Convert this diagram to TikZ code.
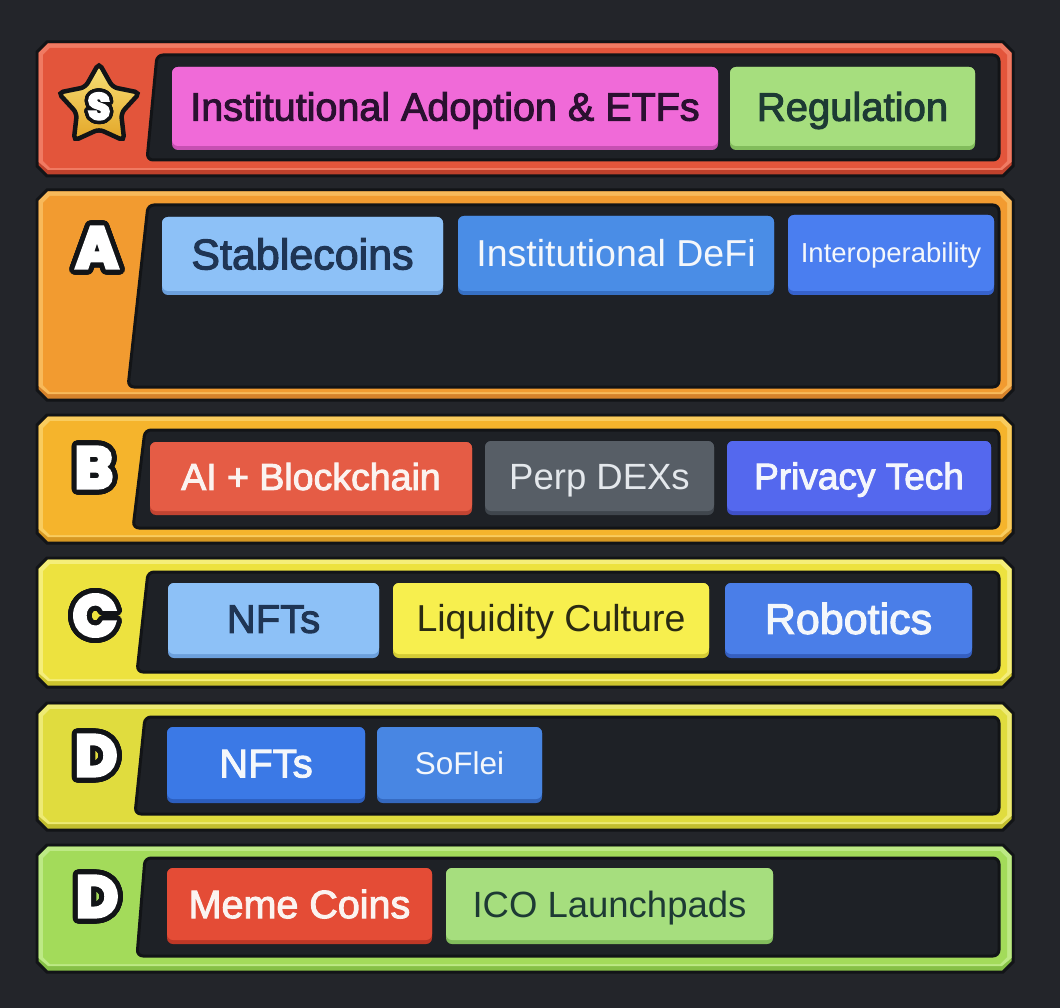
\documentclass[tikz,border=0pt]{standalone}
\usepackage{fontspec}
\setmainfont{Liberation Sans}
\newfontfamily\medf[FakeBold=2.5]{Liberation Sans}
\newfontfamily\tierf[FakeBold=6]{Poppins}
\usepackage[copies]{contour}
\contournumber{32}
\usetikzlibrary{shapes.geometric}

\definecolor{bg}{HTML}{23252A}
\definecolor{panel}{HTML}{1E2126}
\definecolor{frameout}{HTML}{121417}
% tier frames
\definecolor{sM}{HTML}{E3553B}\definecolor{sL}{HTML}{F07A62}\definecolor{sD}{HTML}{BE412C}
\definecolor{aM}{HTML}{F29B30}\definecolor{aL}{HTML}{F8B95A}\definecolor{aD}{HTML}{D6822A}
\definecolor{bM}{HTML}{F5B42C}\definecolor{bL}{HTML}{F9CC5E}\definecolor{bD}{HTML}{D79822}
\definecolor{cM}{HTML}{EDE23F}\definecolor{cL}{HTML}{F5EE7A}\definecolor{cD}{HTML}{CDC42E}
\definecolor{dM}{HTML}{E0DC3E}\definecolor{dL}{HTML}{EDEA74}\definecolor{dD}{HTML}{C2BE2E}
\definecolor{eM}{HTML}{A3DB5A}\definecolor{eL}{HTML}{BDE985}\definecolor{eD}{HTML}{86C046}
% chips
\definecolor{pk}{HTML}{F06AD8}\definecolor{pkD}{HTML}{C650B2}\definecolor{pkT}{HTML}{2A1030}
\definecolor{gr}{HTML}{A6DE7E}\definecolor{grD}{HTML}{82BC5C}\definecolor{grT}{HTML}{1D3A34}
\definecolor{lb}{HTML}{8DC1F7}\definecolor{lbD}{HTML}{6CA0DC}\definecolor{lbT}{HTML}{1F3554}
\definecolor{cbA}{HTML}{4A8DE6}\definecolor{cbAD}{HTML}{3670C4}\definecolor{cbAT}{HTML}{F4F7FB}
\definecolor{cbB}{HTML}{4A7EF0}\definecolor{cbBD}{HTML}{3662CC}\definecolor{cbBT}{HTML}{F4F7FB}
\definecolor{rd}{HTML}{E55C45}\definecolor{rdD}{HTML}{C24432}\definecolor{rdT}{HTML}{FBF3F0}
\definecolor{gy}{HTML}{575E66}\definecolor{gyD}{HTML}{40464D}\definecolor{gyT}{HTML}{E4E8EC}
\definecolor{ind}{HTML}{5468EE}\definecolor{indD}{HTML}{3F50C8}\definecolor{indT}{HTML}{F4F6FC}
\definecolor{ye}{HTML}{F7EF4E}\definecolor{yeD}{HTML}{D4CC34}\definecolor{yeT}{HTML}{2A2A12}
\definecolor{cbC}{HTML}{4A7EE8}\definecolor{cbCD}{HTML}{355FC0}\definecolor{cbCT}{HTML}{F4F7FB}
\definecolor{cbD}{HTML}{3B79E6}\definecolor{cbDD}{HTML}{2C5EBE}\definecolor{cbDT}{HTML}{F4F7FB}
\definecolor{cbE}{HTML}{4886E3}\definecolor{cbED}{HTML}{3468BE}\definecolor{cbET}{HTML}{F4F7FB}
\definecolor{mr}{HTML}{E44C36}\definecolor{mrD}{HTML}{BF3826}\definecolor{mrT}{HTML}{FBF3F0}
\definecolor{starT}{HTML}{F8E27A}\definecolor{starB}{HTML}{E3A526}

\tikzset{
  chipbox/.style={rectangle, rounded corners=6, inner sep=0pt, text depth=0pt},
  tierlt/.style={inner sep=0pt, text=white, font=\tierf\bfseries\fontsize{58}{58}\selectfont}
}

\newcommand\tierframe[9]{%
  \path[fill=#9, draw=frameout, line width=3]
    (47,#1) -- (1003,#1) -- (1013,{#1+10}) -- (1013,{#2-10}) -- (1003,#2) -- (47,#2) -- (37,{#2-10}) -- (37,{#1+10}) -- cycle;
  \path[fill=#8]
    (48,{#1+1.5}) -- (1002,{#1+1.5}) -- (1011.5,{#1+11}) -- (1011.5,{#2-14}) -- (1002,{#2-6}) -- (48,{#2-6}) -- (38.5,{#2-14}) -- (38.5,{#1+11}) -- cycle;
  \path[fill=#7]
    (50,{#1+6}) -- (1000,{#1+6}) -- (1007,{#1+13}) -- (1007,{#2-15}) -- (1000,{#2-8}) -- (50,{#2-8}) -- (43,{#2-15}) -- (43,{#1+13}) -- cycle;
  \path[fill=panel, draw=frameout, line width=3, rounded corners=6]
    (#3,#5) -- (999,#5) -- (999,#6) -- (#4,#6) -- cycle;
}

\newcommand\chip[9]{%
  \fill[#6D, rounded corners=6] (#2,#3) rectangle (#4,#5);
  \pgfmathsetmacro\chipcap{0.716*#7}%
  \node[chipbox, fill=#6, text=#6T, font=#8\fontsize{#7}{#7}\selectfont,
        text height=\chipcap pt, minimum width={#4-#2}, minimum height={#5-#3-4}]
        (#1) at ({(#2+#4)/2},{(#3+#5-4)/2}) {#9};
}

\begin{document}
\begin{tikzpicture}[x=1pt,y=-1pt]
\useasboundingbox (0,0) rectangle (1060,1008);
\fill[bg] (0,0) rectangle (1060,1008);

% ---- tier frames
\tierframe{42}{176}{157}{147}{55}{160}{sM}{sL}{sD}
\tierframe{190}{400}{148}{128}{205}{387}{aM}{aL}{aD}
\tierframe{415}{543}{145}{133}{430}{528}{bM}{bL}{bD}
\tierframe{558}{687}{148}{137}{572}{672}{cM}{cL}{cD}
\tierframe{703}{830}{145}{135}{717}{814}{dM}{dL}{dD}
\tierframe{845}{972}{145}{137}{858}{956}{eM}{eL}{eD}

% ---- tier badges
\node[star, star points=5, star point ratio=1.85, minimum size=86, inner sep=0pt,
      draw=frameout, line width=4.5, rounded corners=5, top color=starT, bottom color=starB]
      (star) at (99,106) {};
\contourlength{3.5pt}
\node[inner sep=0pt, text=white, font=\tierf\bfseries\fontsize{37}{37}\selectfont] (sgrade) at (99,108) {\contour{frameout}{S}};
\contourlength{5pt}
\node[tierlt] (ta) at (97,250) {\contour{frameout}{A}};
\node[tierlt] (tb) at (94,470) {\contour{frameout}{B}};
\node[tierlt] (tc) at (95,618) {\contour{frameout}{C}};
\node[tierlt] (td) at (96,758) {\contour{frameout}{D}};
\node[tierlt] (te) at (97,899) {\contour{frameout}{D}};

% ---- chips
\chip{s1}{172}{67}{718}{150}{pk}{39.5}{\medf}{Institutional Adoption \& ETFs}
\chip{s2}{730}{67}{975}{150}{gr}{40}{\medf}{Regulation}

\chip{a1}{162}{217}{443}{295}{lb}{43}{\medf}{Stablecoins}
\chip{a2}{458}{216}{774}{295}{cbA}{37.5}{\rmfamily}{Institutional DeFi}
\chip{a3}{788}{215}{994}{295}{cbB}{27.5}{\rmfamily}{Interoperability}

\chip{b1}{150}{442}{472}{515}{rd}{37.5}{\medf}{AI + Blockchain}
\chip{b2}{485}{441}{714}{515}{gy}{36.5}{\rmfamily}{Perp DEXs}
\chip{b3}{727}{441}{991}{515}{ind}{37}{\medf}{Privacy Tech}

\chip{c1}{168}{583}{379}{658}{lb}{40}{\medf}{NFTs}
\chip{c2}{393}{583}{709}{658}{ye}{37.5}{\rmfamily}{Liquidity Culture}
\chip{c3}{725}{583}{972}{658}{cbC}{43}{\medf}{Robotics}

\chip{d1}{167}{727}{365}{803}{cbD}{40}{\medf}{NFTs}
\chip{d2}{377}{727}{542}{803}{cbE}{31.5}{\rmfamily}{SoFlei}

\chip{e1}{167}{868}{432}{944}{mr}{39.5}{\medf}{Meme Coins}
\chip{e2}{446}{868}{773}{944}{gr}{36.5}{\rmfamily}{ICO Launchpads}
\end{tikzpicture}
\end{document}
